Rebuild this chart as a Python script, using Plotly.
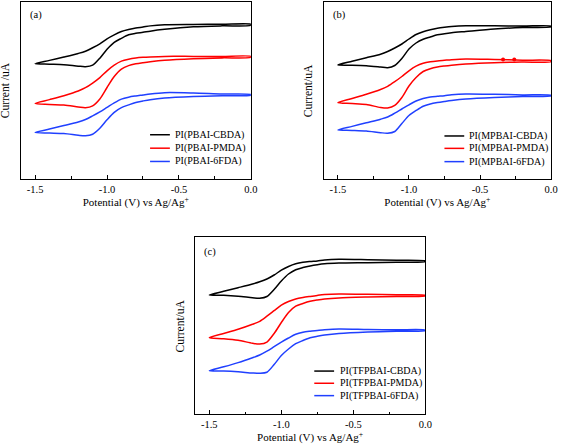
import plotly.graph_objects as go

# Potential grid (V vs Ag/Ag+) shared by all curves
potential = [-1.5, -1.4, -1.3, -1.2, -1.15, -1.1, -1.05, -1.0, -0.95, -0.9,
             -0.85, -0.8, -0.75, -0.7, -0.6, -0.4, -0.2, 0.0]

# ---- Panel (a): PBAI series (arbitrary current units, offset curves) ----
a_cbda_fwd = [116, 119.3, 122.7, 126.3, 128.5, 132, 136, 141, 145, 148.3, 150.3, 151.8, 152.8, 154, 155.2, 155.5, 155.6, 155.7]
a_cbda_rev = [116, 115.5, 115, 113.5, 113, 114.5, 121.5, 130.5, 137.5, 141.5, 145, 146.5, 147.5, 148.7, 150.5, 153, 154, 154.5]
a_pmda_fwd = [76, 79.8, 83.8, 88.5, 91.8, 96.5, 102, 108.8, 114.5, 118.5, 120.5, 121.7, 122.4, 122.8, 123.3, 123.3, 123.3, 123.3]
a_pmda_rev = [76, 75, 74.3, 72.5, 71.7, 73.5, 80.5, 92, 103, 110.5, 114, 115.8, 117, 118, 119.5, 121, 121.8, 122.3]
a_6fda_fwd = [46.7, 50.2, 53.7, 57.3, 59.8, 63.5, 67.5, 72, 76.5, 80.3, 82.3, 83.5, 84.5, 85.5, 86.8, 86.5, 85.5, 85]
a_6fda_rev = [46.7, 46.2, 45.7, 44, 43.5, 45, 51, 59.5, 67, 71.7, 74.5, 77, 78.5, 79.8, 81.5, 83, 83.8, 84.3]

# ---- Panel (b): MPBAI series ----
b_cbda_fwd = [114, 117.7, 121.2, 124.8, 127.5, 131, 135, 140, 144.5, 147.3, 149.3, 150.8, 151.8, 152.6, 153.3, 153.2, 153, 153]
b_cbda_rev = [114, 113.8, 113.3, 112, 111.3, 113.5, 120.5, 130, 136, 139.7, 142, 144.2, 145.3, 146.2, 147.5, 150, 151.5, 152.3]
b_pmda_fwd = [76.3, 80.5, 84.7, 89.5, 92.7, 97.3, 102.5, 108.2, 112.8, 115.7, 117.2, 118.1, 118.7, 119.3, 120, 119.5, 118.8, 118.3]
b_pmda_rev = [76.3, 75.5, 74.5, 71.5, 71, 73.5, 81.5, 93, 101.5, 107.5, 110.3, 112, 113, 113.8, 115, 116.3, 116.9, 117.3]
b_6fda_fwd = [49, 52.6, 56.2, 59.8, 62, 65.8, 70, 74.2, 78, 80.5, 82, 82.7, 83.3, 84.2, 85, 84.7, 84.1, 83.7]
b_6fda_rev = [49, 48.6, 48, 46.3, 45.8, 47.5, 55.5, 63.5, 68.5, 72.8, 75, 76.4, 77.5, 78.5, 80, 81.5, 82.4, 83]
b_pmda_dot_v = [-0.338, -0.259]
b_pmda_dot_i = [119.6, 119.6]

# ---- Panel (c): TFPBAI series ----
c_cbda_fwd = [119, 122.7, 126.3, 130, 132.2, 135, 139, 143.8, 147.5, 150.2, 151.7, 152.5, 153.1, 154, 154.7, 154.3, 153.7, 153]
c_cbda_rev = [119, 118.7, 117.8, 116.3, 115.8, 117.5, 124.5, 133, 140, 144.3, 146.5, 148.1, 149.3, 150.2, 150.9, 151.3, 151.8, 152.3]
c_pmda_fwd = [76.3, 80.5, 84.7, 89.7, 92.7, 97.8, 103.3, 108.8, 112.5, 115, 116.5, 117.6, 118.6, 119.4, 120, 119.7, 119.2, 118.7]
c_pmda_rev = [76.3, 75.3, 73.7, 70.8, 70, 72, 80.5, 91.5, 101.5, 107.8, 110.5, 112.7, 114, 115, 116.1, 117, 117.6, 118]
c_6fda_fwd = [43.3, 47.2, 51.4, 56.3, 59, 62.8, 67.3, 71.8, 76, 79.8, 81.8, 82.8, 83.5, 84.2, 85, 84.5, 84.2, 84]
c_6fda_rev = [43.3, 43, 42.2, 41, 40.7, 41.8, 49.5, 58.5, 65, 70.3, 73.5, 76.2, 77.7, 78.9, 80.5, 82, 82.8, 83.3]

names_a = ["PI(PBAI-CBDA)", "PI(PBAI-PMDA)", "PI(PBAI-6FDA)"]
names_b = ["PI(MPBAI-CBDA)", "PI(MPBAI-PMDA)", "PI(MPBAI-6FDA)"]
names_c = ["PI(TFPBAI-CBDA)", "PI(TFPBAI-PMDA)", "PI(TFPBAI-6FDA)"]
panel_labels = ["(a)", "(b)", "(c)"]
y_titles = ["Current /uA", "Current/uA", "Current/uA"]
x_tickvals = [-1.5, -1.0, -0.5, 0.0]
x_ticktext = ["-1.5", "-1.0", "-0.5", "0.0"]

colors = ["#000000", "#ff0000", "#2040ff"]
FONT = "'Liberation Serif', 'Times New Roman', serif"

panels = [
    dict(ax="", data=[(a_cbda_fwd, a_cbda_rev), (a_pmda_fwd, a_pmda_rev), (a_6fda_fwd, a_6fda_rev)],
         names=names_a, xdom=[0.0370, 0.4480], ydom=[0.5996, 0.9955], yr=[0, 178],
         leg_x=[0.562, 0.648, 0.661], leg_y=[0.250, 0.174, 0.099], lab=(0.031, 0.927)),
    dict(ax="2", data=[(b_cbda_fwd, b_cbda_rev), (b_pmda_fwd, b_pmda_rev), (b_6fda_fwd, b_6fda_rev)],
         names=names_b, xdom=[0.5780, 0.9841], ydom=[0.5996, 0.9955], yr=[0, 177],
         leg_x=[0.531, 0.618, 0.632], leg_y=[0.243, 0.173, 0.098], lab=(0.032, 0.927)),
    dict(ax="3", data=[(c_cbda_fwd, c_cbda_rev), (c_pmda_fwd, c_pmda_rev), (c_6fda_fwd, c_6fda_rev)],
         names=names_c, xdom=[0.3480, 0.7596], ydom=[0.0738, 0.4691], yr=[0, 176.7],
         leg_x=[0.518, 0.604, 0.619], leg_y=[0.243, 0.174, 0.104], lab=(0.030, 0.918)),
]

fig = go.Figure()
shapes = []
annotations = []

for k, p in enumerate(panels):
    ax = p["ax"]
    xa, ya = "x" + ax, "y" + ax
    for (fwd, rev), name, col in zip(p["data"], p["names"], colors):
        fig.add_trace(go.Scatter(
            x=potential + potential[::-1], y=fwd + rev[::-1],
            mode="lines", line=dict(color=col, width=1.5, shape="spline", smoothing=0.8),
            name=name, showlegend=False, xaxis=xa, yaxis=ya))
    if k == 1:
        fig.add_trace(go.Scatter(x=b_pmda_dot_v, y=b_pmda_dot_i, mode="markers",
                                 marker=dict(color=colors[1], size=4), showlegend=False,
                                 xaxis=xa, yaxis=ya))
    layout_x = dict(domain=p["xdom"], range=[-1.6, 0.0], anchor=ya,
                    showline=True, linecolor="black", linewidth=1, mirror=True,
                    ticks="inside", ticklen=4, tickwidth=1, tickcolor="black",
                    tickvals=x_tickvals, ticktext=x_ticktext,
                    minor=dict(ticks="inside", ticklen=2.5, tickwidth=1, tickcolor="black",
                               tickvals=[-1.25, -0.75, -0.25]),
                    showgrid=False, zeroline=False,
                    tickfont=dict(family=FONT, size=10.5, color="black"),
                    title=dict(text="Potential (V) vs Ag/Ag<sup>+</sup>",
                               font=dict(family=FONT, size=11, color="black"), standoff=3))
    layout_y = dict(domain=p["ydom"], range=p["yr"], anchor=xa,
                    showline=True, linecolor="black", linewidth=1, mirror=True,
                    showticklabels=False, ticks="", showgrid=False, zeroline=False)
    fig.update_layout(**{"xaxis" + ax: layout_x, "yaxis" + ax: layout_y})

    xd, yd = xa + " domain", ya + " domain"
    for name, col, ly in zip(p["names"], colors, p["leg_y"]):
        shapes.append(dict(type="line", xref=xd, yref=yd, x0=p["leg_x"][0], x1=p["leg_x"][1],
                           y0=ly, y1=ly, line=dict(color=col, width=1.5)))
        annotations.append(dict(text=name, xref=xd, yref=yd, x=p["leg_x"][2], y=ly,
                                xanchor="left", yanchor="middle", showarrow=False,
                                font=dict(family=FONT, size=10, color="black")))
    annotations.append(dict(text=panel_labels[k], xref=xd, yref=yd, x=p["lab"][0], y=p["lab"][1],
                            xanchor="left", yanchor="middle", showarrow=False,
                            font=dict(family=FONT, size=10.5, color="black")))
    annotations.append(dict(text=y_titles[k], xref=xd, yref=yd, x=0, y=0.5, xshift=-7,
                            xanchor="right", yanchor="middle", textangle=-90, showarrow=False,
                            font=dict(family=FONT, size=11.5, color="black")))

fig.update_layout(width=567, height=447, margin=dict(l=0, r=0, t=0, b=0),
                  paper_bgcolor="white", plot_bgcolor="white",
                  shapes=shapes, annotations=annotations, showlegend=False)

fig.write_html("out.html", config={"displayModeBar": False},
               post_script="document.body.style.margin='0px';document.body.style.overflow='hidden';")
